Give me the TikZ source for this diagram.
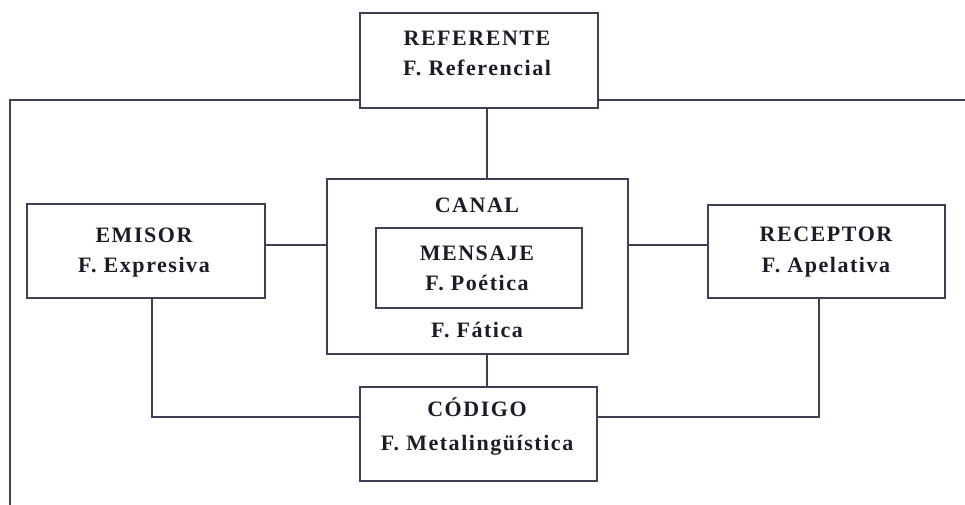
\documentclass[tikz,border=0pt]{standalone}
\usepackage{fontspec}
\setmainfont{Liberation Serif}[LetterSpace=7]
\definecolor{linec}{RGB}{62,64,88}
\definecolor{txtc}{RGB}{28,28,38}
\begin{document}
\begin{tikzpicture}[x=1pt,y=-1pt,
  box/.style={draw=linec, line width=1.3pt, inner sep=0pt, fill=white},
  conn/.style={draw=linec, line width=1.1pt},
  txt/.style={anchor=base, inner sep=0pt, text=txtc, font=\fontsize{22}{26}\selectfont\bfseries}]
\fill[white] (0,0) rectangle (965,505);
\useasboundingbox (0,0) rectangle (965,505);
% boxes
\node[box, minimum width=238pt, minimum height=95pt] (referente) at (479,60.5) {};
\node[box, minimum width=301pt, minimum height=175pt] (canal) at (477.5,266.5) {};
\node[box, minimum width=206pt, minimum height=80pt] (mensaje) at (479,268) {};
\node[box, minimum width=238pt, minimum height=94pt] (emisor) at (146,251) {};
\node[box, minimum width=237pt, minimum height=93pt] (receptor) at (826.5,251.5) {};
\node[box, minimum width=237pt, minimum height=94pt] (codigo) at (478.5,434) {};
% texts
\node[txt] (refA) at (477,46) {REFERENTE};
\node[txt] (refB) at (477,76) {F. Referencial};
\node[txt] (canA) at (477,212) {CANAL};
\node[txt] (menA) at (477,260) {MENSAJE};
\node[txt] (menB) at (477,290) {F. Poética};
\node[txt] (canB) at (477,337) {F. Fática};
\node[txt] (emiA) at (144,242) {EMISOR};
\node[txt] (emiB) at (144,272) {F. Expresiva};
\node[txt] (recA) at (826,241) {RECEPTOR};
\node[txt] (recB) at (826,272) {F. Apelativa};
\node[txt] (codA) at (477,416) {CÓDIGO};
\node[txt] (codB) at (477,450) {F. Metalingüística};
% connectors
\coordinate (tl) at (10,100);
\coordinate (bl) at (10,505);
\coordinate (tr) at (965,100);
\coordinate (vx) at (487,0);
\coordinate (hy) at (0,245);
\coordinate (ey) at (152,417);
\coordinate (ry) at (819,417);
\draw[conn] (bl) -- (tl) -- (tl -| referente.west);
\draw[conn] (referente.east |- tr) -- (tr);
\draw[conn] (referente.south -| vx) -- (canal.north -| vx);
\draw[conn] (canal.south -| vx) -- (codigo.north -| vx);
\draw[conn] (emisor.east |- hy) -- (canal.west |- hy);
\draw[conn] (canal.east |- hy) -- (receptor.west |- hy);
\draw[conn] (emisor.south -| ey) -- (ey) -- (codigo.west |- ey);
\draw[conn] (receptor.south -| ry) -- (ry) -- (codigo.east |- ry);
\end{tikzpicture}
\end{document}
